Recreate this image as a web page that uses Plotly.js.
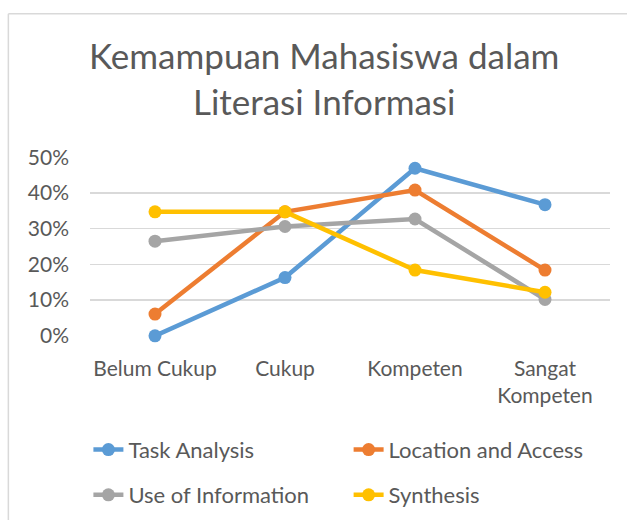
<!DOCTYPE html>
<html>
<head>
<meta charset="utf-8">
<script src="https://cdn.plot.ly/plotly-3.0.1.min.js"></script>
<style>html,body{margin:0;padding:0;background:#fff;}#chart{width:627px;height:520px;}</style>
</head>
<body>
<div id="chart"></div>
<script>
const categories = ["Belum Cukup", "Cukup", "Kompeten", "Sangat<br>Kompeten"];
const seriesNames = ["Task Analysis", "Location and Access", "Use of Information", "Synthesis"];
const taskAnalysis = [0.000, 0.163, 0.469, 0.367];
const locationAccess = [0.061, 0.347, 0.408, 0.184];
const useOfInformation = [0.265, 0.306, 0.327, 0.102];
const synthesis = [0.347, 0.347, 0.184, 0.122];
const yTickVals = [0, 0.1, 0.2, 0.3, 0.4, 0.5];
const yTickText = ["0%", "10%", "20%", "30%", "40%", "50%"];
const colors = ["#5B9BD5", "#ED7D31", "#A5A5A5", "#FFC000"];
const allSeries = [taskAnalysis, locationAccess, useOfInformation, synthesis];
const legendIds = ["legend", "legend2", "legend3", "legend4"];

const FONT = "Lato, 'Open Sans', sans-serif";
const TXT = "#595959";

const traces = allSeries.map((vals, i) => ({
  type: "scatter",
  mode: "lines+markers",
  x: categories,
  y: vals,
  name: seriesNames[i],
  legend: legendIds[i],
  line: {color: colors[i], width: 4.5},
  marker: {color: colors[i], size: 13},
  cliponaxis: false,
  hoverinfo: "skip"
}));

const legendCommon = {
  orientation: "h",
  xref: "container", yref: "container",
  xanchor: "left", yanchor: "middle",
  font: {family: FONT, size: 22, color: TXT},
  bgcolor: "rgba(0,0,0,0)"
};
// legend positions: two columns, two rows
const colX = [0.141, 0.556];
const rowY = [0.135, 0.048];

const layout = {
  width: 627, height: 520,
  margin: {l: 90, r: 17, t: 157, b: 184},
  paper_bgcolor: "#ffffff",
  plot_bgcolor: "#ffffff",
  font: {family: FONT, color: TXT},
  title: {
    text: "Kemampuan Mahasiswa dalam<br>Literasi Informasi",
    font: {family: FONT, size: 35, color: TXT},
    x: 0.517, xanchor: "center",
    xref: "container", yref: "container",
    y: 0.867, yanchor: "middle"
  },
  xaxis: {
    type: "category",
    showgrid: false, zeroline: false, showline: false,
    ticks: "",
    tickfont: {family: FONT, size: 21, color: TXT},
    ticklabelstandoff: 18,
    range: [-0.5, 3.5],
    fixedrange: true
  },
  yaxis: {
    range: [-0.0005, 0.5005],
    tickvals: yTickVals,
    ticktext: yTickText,
    showgrid: true, gridcolor: "#D9D9D9", gridwidth: 1.5,
    zeroline: false, showline: false, ticks: "",
    tickfont: {family: FONT, size: 21, color: TXT},
    ticklabelstandoff: 20,
    fixedrange: true
  },
  legend: Object.assign({}, legendCommon, {x: colX[0], y: rowY[0]}),
  legend2: Object.assign({}, legendCommon, {x: colX[1], y: rowY[0]}),
  legend3: Object.assign({}, legendCommon, {x: colX[0], y: rowY[1]}),
  legend4: Object.assign({}, legendCommon, {x: colX[1], y: rowY[1]}),
  shapes: [
    {type: "line", xref: "paper", yref: "paper", x0: -0.157, x1: 1.05, y0: 1.80, y1: 1.80, line: {color: "#D9D9D9", width: 1.5}},
    {type: "line", xref: "paper", yref: "paper", x0: -0.157, x1: -0.157, y0: 1.80, y1: -1.1, line: {color: "#D9D9D9", width: 1.5}}
  ],
  showlegend: true
};

Plotly.newPlot("chart", traces, layout, {displayModeBar: false, staticPlot: true});
</script>
</body>
</html>
